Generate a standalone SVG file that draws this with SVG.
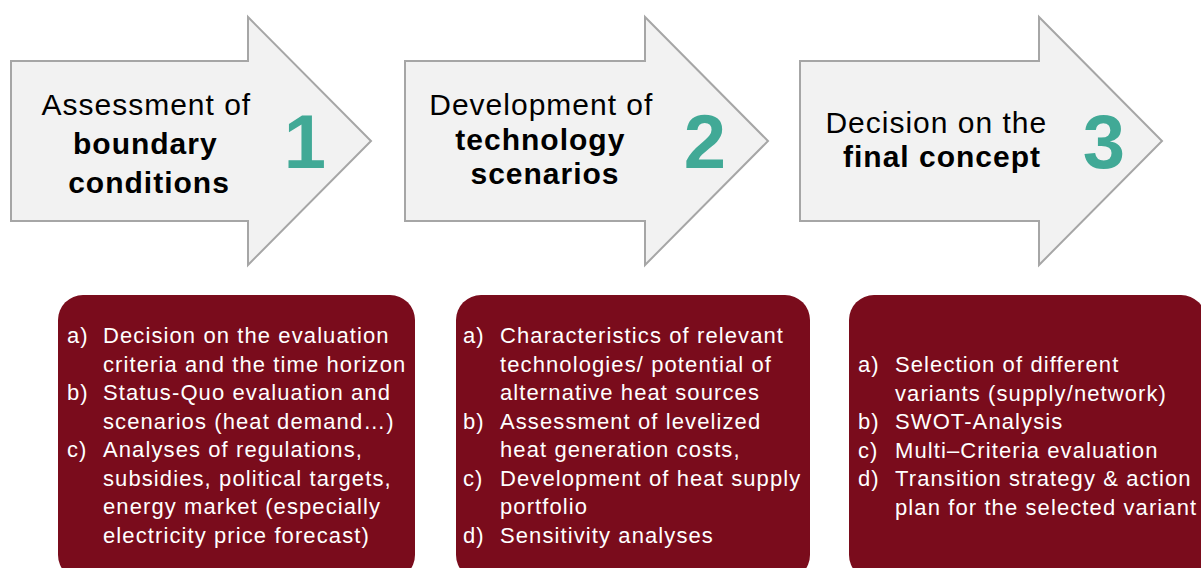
<svg xmlns="http://www.w3.org/2000/svg" width="1201" height="568" viewBox="0 0 1201 568">
  <style>
    .arrow { fill: #F2F2F2; stroke: #A6A6A6; stroke-width: 2; stroke-linejoin: miter; }
    .title { font-family: "Liberation Sans", Arial, sans-serif; font-size: 30px; letter-spacing: 1px; fill: #000; text-anchor: middle; }
    .title .b { font-weight: bold; }
    .num { font-family: "Liberation Sans", Arial, sans-serif; font-size: 76px; font-weight: bold; fill: #41A996; text-anchor: middle; }
    .box { fill: #7A0C1C; }
    .item { font-family: "Liberation Sans", Arial, sans-serif; font-size: 22px; letter-spacing: 1.1px; fill: #FFFFFF; }
  </style>

  <!-- Step 1 -->
  <g id="step1">
    <path class="arrow" d="M11,61 H248 V17 L371,141 L248,265 V221 H11 Z"/>
    <text class="title">
      <tspan x="151" y="115">Assessment of</tspan>
      <tspan class="b" x="150" y="154">boundary</tspan>
      <tspan class="b" x="149" y="193">conditions</tspan>
    </text>
    <text class="num" x="305" y="168">1</text>
  </g>

  <!-- Step 2 -->
  <g id="step2">
    <path class="arrow" d="M405,61 H645 V17 L768,141 L645,265 V221 H405 Z"/>
    <text class="title">
      <tspan x="546" y="115">Development of</tspan>
      <tspan class="b" x="545" y="150">technology</tspan>
      <tspan class="b" x="545" y="184">scenarios</tspan>
    </text>
    <text class="num" x="705" y="168">2</text>
  </g>

  <!-- Step 3 -->
  <g id="step3">
    <path class="arrow" d="M800,61 H1039 V17 L1162,141 L1039,265 V221 H800 Z"/>
    <text class="title">
      <tspan x="941" y="133">Decision on the</tspan>
      <tspan class="b" x="942" y="167">final concept</tspan>
    </text>
    <text class="num" x="1104" y="168">3</text>
  </g>

  <!-- Task list 1 -->
  <g id="tasks1">
    <rect class="box" x="58" y="295" width="357" height="285" rx="25" ry="25"/>
    <text class="item">
      <tspan x="67" y="343">a)</tspan><tspan x="103" y="343">Decision on the evaluation</tspan>
      <tspan x="103" y="371.5">criteria and the time horizon</tspan>
      <tspan x="67" y="400">b)</tspan><tspan x="103" y="400">Status-Quo evaluation and</tspan>
      <tspan x="103" y="428.5">scenarios (heat demand…)</tspan>
      <tspan x="67" y="457">c)</tspan><tspan x="103" y="457">Analyses of regulations,</tspan>
      <tspan x="103" y="485.5">subsidies, political targets,</tspan>
      <tspan x="103" y="514">energy market (especially</tspan>
      <tspan x="103" y="542.5">electricity price forecast)</tspan>
    </text>
  </g>

  <!-- Task list 2 -->
  <g id="tasks2">
    <rect class="box" x="456" y="295" width="354" height="285" rx="25" ry="25"/>
    <text class="item">
      <tspan x="463" y="343">a)</tspan><tspan x="500" y="343">Characteristics of relevant</tspan>
      <tspan x="500" y="371.5">technologies/ potential of</tspan>
      <tspan x="500" y="400">alternative heat sources</tspan>
      <tspan x="463" y="428.5">b)</tspan><tspan x="500" y="428.5">Assessment of levelized</tspan>
      <tspan x="500" y="457">heat generation costs,</tspan>
      <tspan x="463" y="485.5">c)</tspan><tspan x="500" y="485.5">Development of heat supply</tspan>
      <tspan x="500" y="514">portfolio</tspan>
      <tspan x="463" y="542.5">d)</tspan><tspan x="500" y="542.5">Sensitivity analyses</tspan>
    </text>
  </g>

  <!-- Task list 3 -->
  <g id="tasks3">
    <rect class="box" x="849" y="295" width="357" height="285" rx="25" ry="25"/>
    <text class="item">
      <tspan x="858" y="372">a)</tspan><tspan x="895" y="372">Selection of different</tspan>
      <tspan x="895" y="400.5">variants (supply/network)</tspan>
      <tspan x="858" y="429">b)</tspan><tspan x="895" y="429">SWOT-Analysis</tspan>
      <tspan x="858" y="457.5">c)</tspan><tspan x="895" y="457.5">Multi–Criteria evaluation</tspan>
      <tspan x="858" y="486">d)</tspan><tspan x="895" y="486">Transition strategy &amp; action</tspan>
      <tspan x="895" y="514.5">plan for the selected variant</tspan>
    </text>
  </g>

  <!-- no connectors between steps -->
  <g id="connectors"/>
</svg>
